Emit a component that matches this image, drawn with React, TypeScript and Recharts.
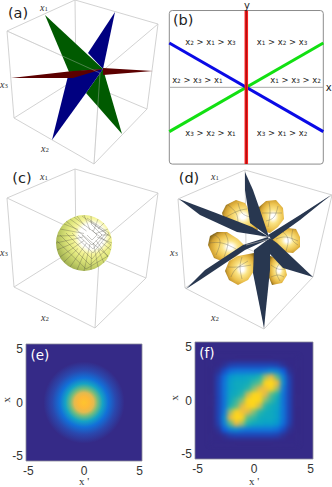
import { ScatterChart, Scatter, XAxis, YAxis, ReferenceArea } from "recharts";

// (a) cube
const cubeA = { A: [7, 31], B: [75, 0], C: [158, 24], G: [100, 73], D: [14, 118], H: [76, 79], F: [147, 109], E: [94, 164] };
const cubeC = { A: [7, 33], B: [75, 4], C: [158, 28], G: [100, 77], D: [14, 122], H: [76, 83], F: [146, 113], E: [95, 163] };
const cubeD = { A: [12, 34], B: [79, 5], C: [166, 30], G: [100, 73], D: [19, 123], H: [80, 83], F: [147, 112], E: [98, 164] };
const cubeEdges = ["AB", "BC", "CG", "GA", "DH", "HF", "FE", "ED", "AD", "BH", "CF", "GE"];
const frontEdgesA = ["GA", "GE"];

const greenPlanes = [
  [[45, 15], [103, 69], [69, 72]],
  [[103, 69], [122, 134], [86, 93]],
];
const bluePlanes = [
  [[115, 12], [103, 69], [88, 53]],
  [[52, 140], [69, 72], [103, 69], [86, 93]],
];
const redPlanes = [
  [[11, 78], [73, 71], [103, 69], [73, 78]],
  [[103, 68], [153, 71], [103, 75]],
];

// (b) sectors
const blueLine = [{ x: -1, y: 0.577 }, { x: 1, y: -0.577 }];
const greenLine = [{ x: -1, y: -0.577 }, { x: 1, y: 0.577 }];
const redLine = [{ x: 0, y: -1 }, { x: 0, y: 1 }];
const grayLine = [{ x: -1, y: 0 }, { x: 1, y: 0 }];
const sectorLabels = [
  { x: -0.465, y: 0.586, text: "x2 > x1 > x3" },
  { x: 0.465, y: 0.586, text: "x1 > x2 > x3" },
  { x: -0.635, y: 0.095, text: "x2 > x3 > x1" },
  { x: 0.64, y: 0.095, text: "x1 > x3 > x2" },
  { x: -0.465, y: -0.6, text: "x3 > x2 > x1" },
  { x: 0.465, y: -0.6, text: "x3 > x1 > x2" },
];
const axisNamesB = [
  { x: 0.01, y: 1.075, text: "y" },
  { x: 1.07, y: 0, text: "x" },
];

// (c) sphere and its mesh
const sphereCentre = [{ x: 84, y: 78 }];
const sphereRadius = 28;
const sphereRings = [
  [[92, 65], [97, 70], [92, 75], [87, 70]],
  [[92, 60], [102, 70], [92, 80], [82, 70]],
  [[90, 56], [106, 68], [93, 84], [78, 70]],
  [[87, 53], [109, 68], [93, 88], [72, 68]],
  [[82, 51], [111, 72], [92, 94], [66, 68]],
  [[74, 52], [111, 80], [90, 100], [60, 70]],
  [[66, 56], [108, 91], [86, 104], [57, 76]],
];
const sphereSpokes = [
  [[97, 72], [112, 78]], [[101, 70], [110, 70]], [[96, 68.5], [108, 64]], [[98, 64], [104, 58]],
  [[93.5, 66], [98, 54]], [[91.5, 60], [91, 51]], [[90, 65], [84, 50]], [[84.5, 60.5], [77, 51]],
  [[86.5, 66], [70, 54]], [[78, 64.5], [64, 59]], [[84, 68.5], [60, 64]], [[74.5, 70.5], [57, 71]],
  [[83, 72], [56, 78]], [[74.5, 77.5], [57, 85]], [[84, 75.5], [60, 92]], [[78, 83.5], [64, 97]],
  [[86.5, 78], [70, 102]], [[84.5, 87.5], [77, 105]], [[90, 79], [84, 106]], [[91.5, 87.5], [91, 105]],
  [[93.5, 78], [98, 102]], [[98, 84], [104, 98]], [[96, 75.5], [108, 92]], [[101.5, 77.5], [111, 85]],
];

// (d) lobes and nodal planes
const lobes = [
  [[56, 48], [60, 40], [70, 35], [79, 38], [86, 50], [92, 65], [80, 68], [66, 61], [58, 55]],
  [[93, 42], [100, 36], [110, 35], [117, 43], [118, 54], [112, 62], [104, 68], [96, 66], [92, 54]],
  [[104, 76], [112, 66], [122, 63], [130, 64], [134, 72], [134, 82], [127, 88], [116, 87], [106, 82]],
  [[42, 80], [44, 71], [51, 67], [61, 67], [72, 74], [80, 82], [70, 92], [58, 97], [48, 93]],
  [[88, 88], [88, 106], [82, 115], [72, 120], [63, 115], [59, 106], [63, 96], [72, 91]],
  [[102, 90], [112, 94], [119, 102], [121, 110], [116, 118], [106, 120], [102, 110]],
];
const lobeMesh = [
  [[62, 40], [70, 48], [72, 58]], [[72, 38], [76, 48], [84, 52]], [[60, 52], [72, 46], [81, 44]],
  [[103, 37], [104, 48], [102, 62]], [[96, 48], [106, 48], [116, 48]], [[112, 41], [108, 52], [100, 56]],
  [[116, 66], [122, 74], [120, 86]], [[110, 74], [120, 72], [132, 76]], [[127, 64], [126, 74], [132, 80]],
  [[47, 69], [54, 76], [50, 90]], [[43, 78], [56, 78], [70, 84]], [[59, 68], [62, 78], [58, 92]],
  [[76, 92], [74, 102], [76, 114]], [[62, 102], [72, 102], [85, 100]], [[65, 112], [70, 104], [82, 96]],
  [[114, 98], [110, 106], [114, 116]], [[105, 100], [112, 104], [119, 104]], [[105, 112], [112, 110], [118, 112]],
];
const darkPlanes = [
  [[79, 7], [79, 25], [84, 58], [103, 72], [94, 45], [87, 25]],
  [[98, 163], [87, 108], [88, 85], [104, 73], [104, 105]],
  [[13, 34], [50, 48], [86, 62], [103, 72], [71, 67], [34, 50]],
  [[104, 73], [111, 78], [147, 112], [117, 103], [103, 88]],
  [[165, 30], [134, 50], [102, 70], [106, 75], [134, 55]],
  [[20, 124], [39, 105], [77, 80], [102, 72], [103, 74], [79, 85], [34, 115]],
];
const centreSpeck = [[80, 80], [88, 78], [96, 76], [103, 74]];

// (e), (f) density maps
const heatTicks = [-5, 0, 5];
const plotCorners = [{ x: -5, y: -5 }, { x: 5, y: -5 }, { x: 5, y: 5 }, { x: -5, y: 5 }, { x: -5, y: -5 }];
const spotCorners = [{ x: -3.5, y: -3.5 }, { x: 3.5, y: -3.5 }, { x: 3.5, y: 3.5 }, { x: -3.5, y: 3.5 }];
const spotOffsets = ["0%", "14%", "24%", "34%", "46%", "60%", "78%", "100%"];
const spotColours = ["#fec42e", "#fdb939", "#e2ba50", "#6fbb80", "#15a3c4", "#1270d8", "#2a48ae", "#352a87"];
const gridX = [-3.5, -3, -2.5, -2, -1.5, -1, -0.5, 0, 0.5, 1, 1.5, 2, 2.5, 3, 3.5];
const gridY = [3.5, 3, 2.5, 2, 1.5, 1, 0.5, 0, -0.5, -1, -1.5, -2, -2.5, -3, -3.5];
const densityF = [
  [0, 0, 0, 0, 0, 0, 0, 0, 0, 0, 0, 0, 0, 0, 0],
  [0, 0, 2, 5, 6, 6, 6, 6, 6, 6, 6, 5, 2, 0, 0],
  [0, 2, 8, 17, 20, 20, 20, 20, 20, 22, 28, 24, 12, 2, 0],
  [0, 5, 17, 32, 36, 36, 38, 40, 46, 66, 78, 55, 24, 5, 0],
  [0, 6, 20, 36, 40, 40, 42, 50, 56, 88, 100, 78, 28, 6, 0],
  [0, 6, 20, 36, 40, 42, 48, 62, 76, 82, 88, 66, 22, 6, 0],
  [0, 6, 20, 38, 42, 48, 72, 90, 88, 76, 56, 46, 20, 6, 0],
  [0, 6, 20, 40, 50, 62, 90, 100, 90, 62, 50, 40, 20, 6, 0],
  [0, 6, 20, 46, 56, 76, 88, 90, 72, 48, 42, 38, 20, 6, 0],
  [0, 6, 22, 66, 88, 82, 76, 62, 48, 42, 40, 36, 20, 6, 0],
  [0, 6, 28, 78, 100, 88, 56, 50, 42, 40, 40, 36, 20, 6, 0],
  [0, 5, 24, 55, 78, 66, 46, 40, 38, 36, 36, 32, 17, 5, 0],
  [0, 2, 12, 24, 28, 22, 20, 20, 20, 20, 20, 17, 8, 2, 0],
  [0, 0, 2, 5, 6, 6, 6, 6, 6, 6, 6, 5, 2, 0, 0],
  [0, 0, 0, 0, 0, 0, 0, 0, 0, 0, 0, 0, 0, 0, 0],
];
const parula = [
  [53, 42, 135], [15, 92, 221], [18, 125, 216], [7, 156, 207], [21, 177, 180],
  [89, 189, 140], [165, 190, 107], [235, 185, 70], [255, 212, 30], [255, 218, 24],
];

const densityCells = densityF.flatMap((row, r) => row.map((v, c) => ({ x: gridX[c], y: gridY[r], v })));

function parulaColour(v: number) {
  const t = (v / 100) * (parula.length - 1);
  const i = Math.min(Math.floor(t), parula.length - 2);
  const f = t - i;
  const mix = parula[i].map((a, k) => Math.round(a + (parula[i + 1][k] - a) * f));
  return `rgb(${mix.join(",")})`;
}

const toPoints = (pts: number[][]) => pts.map(([x, y]) => ({ x, y }));
const noDot = () => <g />;

function Note(props: any, size: number, family: string, colour: string, italic = false) {
  const parts = String(props.payload.text).split(/(?<=x)(\d)/);
  return (
    <text
      x={props.cx}
      y={props.cy}
      textAnchor="middle"
      dominantBaseline="central"
      fontSize={size}
      fontFamily={family}
      fontStyle={italic ? "italic" : "normal"}
      fill={colour}
    >
      {parts.map((p, i) =>
        i % 2 === 1 ? (
          <tspan key={i} fontSize={size * 0.68} baselineShift="-22%" fontStyle="normal">
            {p}
          </tspan>
        ) : (
          <tspan key={i}>{p}</tspan>
        ),
      )}
    </text>
  );
}

function notes(key: string, data: any[], size: number, family: string, colour: string, italic = false) {
  return (
    <Scatter
      key={key}
      data={data}
      isAnimationActive={false}
      legendType="none"
      shape={(p: any) => Note(p, size, family, colour, italic)}
    />
  );
}

function shapeOf(key: string, pts: any[], fill: string, extra: any = {}) {
  return (
    <Scatter
      key={key}
      data={pts}
      isAnimationActive={false}
      legendType="none"
      shape={noDot}
      line={{ fill, stroke: "none", ...extra.line }}
      lineJointType={extra.joint ?? "linear"}
    />
  );
}

function stroked(key: string, pts: any[], stroke: string, width: number, joint = "linear") {
  return (
    <Scatter
      key={key}
      data={pts}
      isAnimationActive={false}
      legendType="none"
      shape={noDot}
      line={{ fill: "none", stroke, strokeWidth: width }}
      lineJointType={joint as any}
    />
  );
}

function cubeLines(cube: Record<string, number[]>, edges = cubeEdges, colour = "#cdcdcd", tag = "edge") {
  return edges.map((e) => stroked(`${tag}-${e}`, toPoints([cube[e[0]], cube[e[1]]]), colour, 0.9));
}

function PixelPanel({ left, top, children, defs }: any) {
  return (
    <div style={{ position: "absolute", left, top }}>
      <ScatterChart width={166} height={165} margin={{ top: 0, right: 0, bottom: 0, left: 0 }}>
        {defs}
        <XAxis type="number" dataKey="x" domain={[0, 166]} hide />
        <YAxis type="number" dataKey="y" domain={[0, 165]} reversed hide />
        {children}
      </ScatterChart>
    </div>
  );
}

const FONT_LABEL = "DejaVu Sans";
const FONT_CUBE = "Liberation Serif";
const FONT_TICK = "Liberation Sans";

function HeatPanel({ left, top, width, height, margin, name, nameAt, xName, yName, xInset, yInset, xDrop, nameOffset, children }: any) {
  const xTick = ({ x, y, payload }: any) => (
    <text
      x={x - Math.sign(payload.value) * xInset}
      y={y + xDrop}
      textAnchor="middle"
      dominantBaseline="central"
      fontSize={12}
      fontFamily={FONT_TICK}
      fill="#333"
    >
      {payload.value}
    </text>
  );
  const yTick = ({ x, y, payload }: any) => (
    <text
      x={x}
      y={y + Math.sign(payload.value) * yInset}
      textAnchor="end"
      dominantBaseline="central"
      fontSize={12}
      fontFamily={FONT_TICK}
      fill="#333"
    >
      {payload.value}
    </text>
  );
  return (
    <div style={{ position: "absolute", left, top }}>
      <ScatterChart width={width} height={height} margin={margin}>
        <defs>
          <radialGradient id="spotE" cx="0.5" cy="0.5" r="0.5">
            {spotOffsets.map((o, i) => (
              <stop key={o} offset={o} stopColor={spotColours[i]} />
            ))}
          </radialGradient>
        </defs>
        <style>{".density-cells{filter:blur(2px)}"}</style>
        <XAxis
          type="number"
          dataKey="x"
          domain={[-5, 5]}
          ticks={heatTicks}
          height={margin.xh}
          interval={0}
          tickLine={false}
          axisLine={false}
          tickSize={0}
          tickMargin={0}
          tick={xTick}
          label={{ value: xName, position: "insideBottom", offset: 2, fontSize: 11, fontFamily: FONT_CUBE, fill: "#333" }}
        />
        <YAxis
          type="number"
          dataKey="y"
          domain={[-5, 5]}
          ticks={heatTicks}
          width={margin.yw}
          interval={0}
          tickLine={false}
          axisLine={false}
          tickSize={0}
          tickMargin={3}
          tick={yTick}
          label={{ value: yName, angle: -90, position: "insideLeft", offset: nameOffset, fontSize: 11, fontFamily: FONT_CUBE, fill: "#333" }}
        />
        {shapeOf("plot", plotCorners, "#352a87", { line: { stroke: "#8a8a9a", strokeWidth: 0.8 } })}
        {children}
        {notes("panel", [{ ...nameAt, text: name }], 13.5, FONT_LABEL, "#ffffff")}
      </ScatterChart>
    </div>
  );
}

export default function App() {
  return (
    <div style={{ position: "absolute", left: 0, top: 0, width: 332, height: 487, background: "#fff", overflow: "hidden" }}>
      <PixelPanel left={0} top={0}>
        {cubeLines(cubeA)}
        {shapeOf("blue0", toPoints(bluePlanes[0]), "#000080")}
        {shapeOf("green1", toPoints(greenPlanes[1]), "#005a00")}
        {shapeOf("blue1", toPoints(bluePlanes[1]), "#000080")}
        {shapeOf("green0", toPoints(greenPlanes[0]), "#005a00")}
        {shapeOf("red0", toPoints(redPlanes[0]), "#5c0000")}
        {shapeOf("red1", toPoints(redPlanes[1]), "#5c0000")}
        {cubeLines(cubeA, frontEdgesA, "rgba(205,205,205,0.4)", "front")}
        {notes("a", [{ x: 18, y: 13, text: "(a)" }], 14.5, FONT_LABEL, "#222")}
        {notes("cubeA", [{ x: 44, y: 7, text: "x1" }, { x: 4, y: 84, text: "x3" }, { x: 45, y: 148, text: "x2" }], 10, FONT_CUBE, "#333", true)}
      </PixelPanel>

      <div style={{ position: "absolute", left: 166, top: 0 }}>
        <ScatterChart width={166} height={165} margin={{ top: 0, right: 0, bottom: 0, left: 0 }}>
          <XAxis type="number" dataKey="x" domain={[-1.043, 1.113]} hide />
          <YAxis type="number" dataKey="y" domain={[-1.012, 1.137]} hide />
          <ReferenceArea x1={-1} x2={1} y1={-1} y2={1} fill="none" stroke="#8c8c8c" strokeWidth={1} radius={3} />
          {stroked("gray", grayLine, "#a8a8a8", 1)}
          {notes("sectors", sectorLabels, 8.4, FONT_LABEL, "#222")}
          {stroked("green", greenLine, "#12e012", 3)}
          {stroked("blue", blueLine, "#0a0ae6", 3)}
          {stroked("redEdge", redLine, "#ff1c1c", 3.5)}
          {stroked("redCore", redLine, "#a81414", 1.3)}
          {notes("b", [{ x: -0.82, y: 0.876, text: "(b)" }], 14.5, FONT_LABEL, "#222")}
          {notes("names", axisNamesB, 10, FONT_LABEL, "#222")}
        </ScatterChart>
      </div>

      <PixelPanel
        left={0}
        top={165}
        defs={
          <defs>
            <radialGradient id="sphereShade" cx="0.64" cy="0.38" r="0.8">
              <stop offset="0%" stopColor="#ffffff" />
              <stop offset="28%" stopColor="#ffffff" />
              <stop offset="40%" stopColor="#f6f59a" />
              <stop offset="55%" stopColor="#dfe67c" />
              <stop offset="72%" stopColor="#bcc962" />
              <stop offset="88%" stopColor="#98a74c" />
              <stop offset="100%" stopColor="#6c7c34" />
            </radialGradient>
          </defs>
        }
      >
        {cubeLines(cubeC)}
        <Scatter
          data={sphereCentre}
          isAnimationActive={false}
          legendType="none"
          shape={(p: any) => <circle cx={p.cx} cy={p.cy} r={sphereRadius} fill="url(#sphereShade)" />}
        />
        {sphereRings.map((ring, i) => stroked(`ring${i}`, toPoints(ring), "rgba(70,70,60,0.5)", 0.6, "cardinalClosed"))}
        {sphereSpokes.map((s, i) => stroked(`spoke${i}`, toPoints(s), "rgba(70,70,60,0.5)", 0.6))}
        {notes("c", [{ x: 22, y: 13, text: "(c)" }], 14.5, FONT_LABEL, "#222")}
        {notes("cubeC", [{ x: 44, y: 11, text: "x1" }, { x: 4, y: 87, text: "x3" }, { x: 45, y: 152, text: "x2" }], 10, FONT_CUBE, "#333", true)}
      </PixelPanel>

      <PixelPanel
        left={166}
        top={165}
        defs={
          <defs>
            <radialGradient id="lobeShade" cx="0.58" cy="0.5" r="0.6">
              <stop offset="0%" stopColor="#ffffff" />
              <stop offset="12%" stopColor="#ffffff" />
              <stop offset="35%" stopColor="#fbe486" />
              <stop offset="65%" stopColor="#ecc24e" />
              <stop offset="85%" stopColor="#d0a032" />
              <stop offset="100%" stopColor="#8c6c1c" />
            </radialGradient>
          </defs>
        }
      >
        {cubeLines(cubeD)}
        {lobes.map((l, i) => shapeOf(`lobe${i}`, toPoints(l), "url(#lobeShade)", { joint: "cardinalClosed" }))}
        {lobeMesh.map((m, i) => stroked(`mesh${i}`, toPoints(m), "rgba(90,90,80,0.55)", 0.6, "natural"))}
        {darkPlanes.map((p, i) => shapeOf(`plane${i}`, toPoints(p), "#283750"))}
        {stroked("speck", toPoints(centreSpeck), "#9a9a9a", 0.8)}
        {notes("d", [{ x: 23, y: 13, text: "(d)" }], 14.5, FONT_LABEL, "#222")}
        {notes("cubeD", [{ x: 49, y: 11, text: "x1" }, { x: 8, y: 87, text: "x3" }, { x: 49, y: 152, text: "x2" }], 10, FONT_CUBE, "#333", true)}
      </PixelPanel>

      <HeatPanel
        left={0}
        top={330}
        width={166}
        height={157}
        margin={{ top: 14, right: 24, bottom: 0, left: 0, xh: 26, yw: 26 }}
        name="(e)"
        nameAt={{ x: -3.8, y: 4.1 }}
        xName="x '"
        yName="x"
        xInset={2.3}
        yInset={5}
        xDrop={9.5}
        nameOffset={6}
      >
        {shapeOf("spot", spotCorners, "url(#spotE)")}
      </HeatPanel>

      <HeatPanel
        left={166}
        top={330}
        width={166}
        height={157}
        margin={{ top: 12, right: 19, bottom: 0, left: 0, xh: 28, yw: 29 }}
        name="(f)"
        nameAt={{ x: -4, y: 4.1 }}
        xName="x '"
        yName="x"
        xInset={2.5}
        yInset={5.3}
        xDrop={10.2}
        nameOffset={8}
      >
        <Scatter
          className="density-cells"
          data={densityCells}
          isAnimationActive={false}
          legendType="none"
          shape={(p: any) => (
            <rect x={p.cx - 3.2} y={p.cy - 3.2} width={6.4} height={6.4} fill={parulaColour(p.payload.v)} />
          )}
        />
      </HeatPanel>
    </div>
  );
}
